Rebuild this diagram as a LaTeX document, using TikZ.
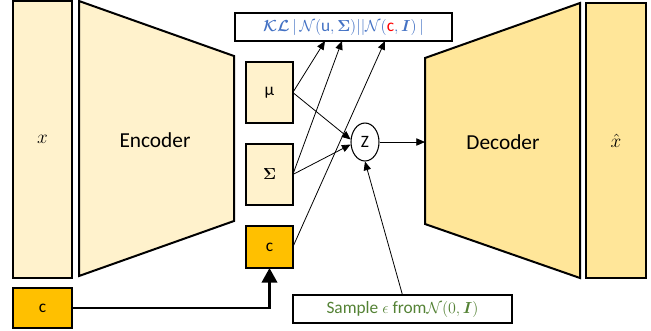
\documentclass[tikz,border=0pt]{standalone}
\usepackage{fontspec}
\setmainfont{Carlito}
\usepackage{amsmath,bm}
\usetikzlibrary{arrows.meta,shapes.geometric}

\definecolor{paleyellow}{HTML}{FFF2CC}
\definecolor{midyellow}{HTML}{FFE699}
\definecolor{amber}{HTML}{FFC000}
\definecolor{klblue}{HTML}{4472C4}
\definecolor{samplegreen}{HTML}{548235}

\tikzset{
  block/.style={draw, line width=1.5pt, inner sep=0pt, outer sep=0pt, line join=miter},
  link/.style={-{Triangle[length=6.5pt,width=5.5pt]}, line width=0.6pt},
  condlink/.style={-{Triangle[length=11pt,width=11.5pt]}, line width=2.2pt},
}

\begin{document}
\begin{tikzpicture}[x = 0.75pt, y = -0.75pt]
	\useasboundingbox (0, 0) rectangle (651, 330);
	% Bodies
	\draw[block, fill = paleyellow] (79, 1) -- (234, 56) -- (234, 221) -- (79, 276) -- cycle;
	\draw[block, fill = midyellow] (425, 58) -- (580, 3) -- (580, 278) -- (425, 224) -- cycle;
	\coordinate (decin) at (425, 142);

	% Nodes
	\node[block, fill = paleyellow, minimum width = 44pt, minimum height = 208pt] (x) at (42.5, 139.5) {\fontsize{15}{18}\selectfont$x$};
	\node[font = \fontsize{16}{19}\selectfont] (enc) at (155, 140) {Encoder};
	\node[font = \fontsize{16}{19}\selectfont] (dec) at (503, 142) {Decoder};
	\node[block, fill = midyellow, minimum width = 45pt, minimum height = 206pt] (xhat) at (616, 140.5) {\fontsize{15}{18}\selectfont$\hat{x}$};
	\node[block, fill = paleyellow, minimum width = 35pt, minimum height = 46pt, font = \fontsize{13}{15}\selectfont] (mu) at (269.5, 92.5) {μ};
	\node[block, fill = paleyellow, minimum width = 35pt, minimum height = 46pt] (sigma) at (269.5, 174.5) {\fontsize{13}{15}\selectfont$\bm{\Sigma}$};
	\node[block, fill = amber, minimum width = 35pt, minimum height = 31.5pt, font = \fontsize{13}{15}\selectfont] (cin) at (269.5, 247) {c};
	\node[block, fill = amber, minimum width = 44pt, minimum height = 30pt, font = \fontsize{13}{15}\selectfont] (cbot) at (42.5, 308) {c};
	\node[ellipse, draw, line width = 0.8pt, inner sep = 0pt, minimum width = 21pt, minimum height = 28.5pt, font = \fontsize{13}{15}\selectfont] (z) at (365, 142) {Z};
	\node[block, minimum width = 163pt, minimum height = 21pt, text = klblue, font = \fontsize{13}{15}\selectfont] (kl) at (343.5, 27)
		{$\bm{\mathcal{KL}}\,|\,\mathcal{N}(\mathrm{u},\bm{\Sigma})||\mathcal{N}(\textcolor{red}{\mathrm{c}},\bm{I})\,|$};
	\node[block, minimum width = 164pt, minimum height = 21pt, text = samplegreen, font = \fontsize{13}{15}\selectfont] (sample) at (402.5, 309)
		{Sample $\epsilon$ from$\mathcal{N}(0,\bm{I})$};
	\coordinate (kl1) at (325, 41);
	\coordinate (kl2) at (342, 41);
	\coordinate (kl3) at (385, 41);

	% Edges
	\draw[link] (mu.east) -- (kl1);
	\draw[link] (sigma.east) -- (kl2);
	\draw[link] (cin.east) -- (kl3);
	\draw[link] (mu.east) -- (z.170);
	\draw[link] (sigma.east) -- (z.190);
	\draw[link] (sample.north) -- (z.south);
	\draw[link] (z.east) -- (decin);
	\draw[condlink] (cbot.east) -| (cin.south);
\end{tikzpicture}
\end{document}
